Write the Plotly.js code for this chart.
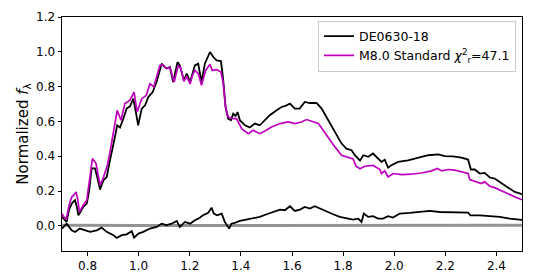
<!DOCTYPE html>
<html>
<head>
<meta charset="utf-8">
<script src="https://cdn.plot.ly/plotly-3.0.1.min.js"></script>
<style>html,body{margin:0;padding:0;background:#fff;}#chart{width:538px;height:272px;}</style>
</head>
<body>
<div id="chart"></div>
<script>
// DE0630-18 spectrum (wavelength in micron, normalized flux)
const dataWave = [0.700,0.710,0.718,0.728,0.738,0.745,0.751,0.758,0.764,0.772,0.783,0.797,0.806,0.816,0.829,0.838,0.849,0.862,0.875,0.885,0.894,0.907,0.916,0.927,0.940,0.953,0.966,0.979,0.989,0.998,1.012,1.025,1.038,1.055,1.070,1.090,1.100,1.109,1.122,1.135,1.152,1.161,1.177,1.188,1.201,1.220,1.233,1.246,1.259,1.279,1.292,1.305,1.322,1.331,1.340,1.350,1.361,1.370,1.379,1.387,1.396,1.416,1.435,1.455,1.474,1.494,1.513,1.540,1.559,1.575,1.592,1.611,1.630,1.650,1.670,1.696,1.716,1.742,1.768,1.794,1.813,1.833,1.846,1.859,1.866,1.879,1.898,1.917,1.937,1.950,1.963,1.976,1.989,2.015,2.054,2.093,2.133,2.172,2.198,2.230,2.263,2.289,2.300,2.315,2.335,2.354,2.374,2.393,2.420,2.446,2.472,2.500];
const dataFlux = [0.052,0.035,0.023,0.095,0.128,0.140,0.148,0.110,0.061,0.080,0.109,0.128,0.200,0.330,0.330,0.280,0.209,0.262,0.281,0.358,0.415,0.511,0.578,0.565,0.616,0.674,0.687,0.731,0.654,0.578,0.674,0.693,0.741,0.769,0.827,0.932,0.915,0.904,0.913,0.827,0.941,0.922,0.836,0.875,0.827,0.922,0.932,0.827,0.932,0.999,0.970,0.951,0.947,0.836,0.683,0.616,0.607,0.645,0.631,0.654,0.607,0.578,0.565,0.588,0.578,0.607,0.636,0.664,0.683,0.690,0.703,0.674,0.674,0.712,0.706,0.706,0.674,0.607,0.540,0.473,0.444,0.435,0.406,0.387,0.375,0.406,0.397,0.416,0.387,0.368,0.380,0.335,0.349,0.368,0.377,0.392,0.406,0.411,0.401,0.400,0.392,0.381,0.324,0.324,0.301,0.305,0.278,0.272,0.243,0.220,0.195,0.182];

// M8.0 spectral standard
const stdWave = [0.700,0.708,0.717,0.728,0.738,0.745,0.755,0.762,0.768,0.775,0.783,0.797,0.808,0.819,0.833,0.840,0.849,0.860,0.868,0.878,0.888,0.898,0.907,0.916,0.931,0.946,0.966,0.982,0.994,1.012,1.030,1.044,1.059,1.083,1.095,1.109,1.122,1.139,1.155,1.165,1.177,1.188,1.201,1.212,1.220,1.233,1.246,1.262,1.279,1.288,1.305,1.322,1.331,1.340,1.350,1.370,1.383,1.403,1.429,1.448,1.474,1.494,1.520,1.553,1.585,1.611,1.637,1.657,1.683,1.703,1.722,1.748,1.768,1.794,1.820,1.839,1.850,1.866,1.885,1.917,1.944,1.950,1.963,1.976,1.996,2.028,2.067,2.107,2.146,2.169,2.185,2.211,2.237,2.270,2.289,2.296,2.322,2.341,2.354,2.374,2.393,2.420,2.446,2.472,2.500];
const stdFlux = [0.070,0.050,0.040,0.120,0.166,0.175,0.195,0.150,0.080,0.100,0.119,0.148,0.260,0.387,0.358,0.300,0.234,0.270,0.301,0.350,0.425,0.500,0.588,0.664,0.607,0.703,0.722,0.769,0.654,0.731,0.750,0.817,0.798,0.922,0.925,0.904,0.910,0.827,0.922,0.905,0.830,0.860,0.815,0.870,0.893,0.875,0.808,0.893,0.928,0.893,0.897,0.884,0.817,0.683,0.626,0.616,0.616,0.559,0.530,0.549,0.530,0.545,0.568,0.588,0.597,0.588,0.597,0.611,0.597,0.588,0.549,0.492,0.454,0.406,0.396,0.385,0.345,0.328,0.343,0.348,0.324,0.301,0.316,0.281,0.301,0.295,0.297,0.304,0.316,0.330,0.316,0.324,0.320,0.310,0.301,0.266,0.253,0.243,0.253,0.228,0.220,0.201,0.186,0.167,0.150];

// Residual (data minus standard)
const resWave = [0.700,0.705,0.718,0.738,0.751,0.770,0.790,0.810,0.836,0.855,0.875,0.901,0.914,0.934,0.953,0.973,0.982,0.999,1.018,1.044,1.070,1.090,1.109,1.129,1.149,1.161,1.181,1.201,1.220,1.233,1.252,1.272,1.285,1.294,1.307,1.325,1.337,1.354,1.363,1.376,1.396,1.422,1.448,1.474,1.501,1.526,1.553,1.572,1.592,1.611,1.631,1.650,1.670,1.689,1.709,1.735,1.761,1.787,1.813,1.839,1.859,1.872,1.881,1.898,1.917,1.937,1.956,1.976,1.995,2.022,2.061,2.100,2.139,2.178,2.217,2.257,2.289,2.298,2.335,2.374,2.413,2.452,2.491,2.500];
const resFlux = [-0.015,-0.006,0.013,-0.025,-0.035,-0.015,-0.025,-0.034,-0.025,-0.010,-0.034,-0.053,-0.069,-0.053,-0.048,-0.030,-0.067,-0.044,-0.034,-0.015,-0.006,0.013,0.004,0.013,0.029,-0.006,0.023,0.013,0.033,0.042,0.061,0.075,0.105,0.071,0.061,0.071,0.023,-0.015,0.013,0.017,0.029,0.036,0.042,0.052,0.067,0.080,0.094,0.090,0.113,0.086,0.094,0.109,0.100,0.113,0.100,0.080,0.067,0.052,0.042,0.036,0.042,0.023,0.071,0.052,0.056,0.042,0.042,0.056,0.048,0.071,0.075,0.080,0.086,0.080,0.080,0.080,0.077,0.061,0.061,0.056,0.052,0.042,0.033,0.035];

// Noise (uncertainty) of the data
const noiseWave = [0.70,0.75,0.80,0.90,1.00,1.10,1.20,1.30,1.35,1.40,1.45,1.60,1.75,1.80,1.85,1.90,1.95,2.00,2.20,2.40,2.50];
const noiseFlux = [0.004,0.003,0.002,0.002,0.002,0.002,0.002,0.003,0.005,0.005,0.003,0.002,0.002,0.003,0.006,0.005,0.003,0.003,0.003,0.003,0.004];

const legendNames = ['DE0630-18', 'M8.0 Standard <i>χ</i><sup>2</sup><sub>r</sub>=47.1'];
const xTicks = [0.8,1.0,1.2,1.4,1.6,1.8,2.0,2.2,2.4];
const yTicks = [0.0,0.2,0.4,0.6,0.8,1.0,1.2];

const traces = [
  {x: noiseWave, y: noiseFlux, mode:'lines', line:{color:'rgba(120,120,120,0.8)', width:3}, showlegend:false, hoverinfo:'skip'},
  {x: dataWave, y: dataFlux, mode:'lines', name: legendNames[0], line:{color:'#000000', width:1.8}},
  {x: stdWave, y: stdFlux, mode:'lines', name: legendNames[1], line:{color:'#bf00bf', width:1.7}},
  {x: resWave, y: resFlux, mode:'lines', line:{color:'#000000', width:1.8}, showlegend:false}
];

const font = {family:'"DejaVu Sans", sans-serif', size:12, color:'#000'};
const layout = {
  width:538, height:272,
  margin:{l:62, r:16, t:17, b:21, pad:0},
  paper_bgcolor:'#fff', plot_bgcolor:'#fff',
  font: font,
  showlegend:true,
  legend:{x:0.987, y:0.985, xanchor:'right', yanchor:'top', bgcolor:'rgba(255,255,255,0.8)', bordercolor:'#cccccc', borderwidth:1, font:{family:font.family, size:12.5, color:'#000'}},
  xaxis:{range:[0.7,2.5], tickvals:xTicks, ticktext:xTicks.map(v=>v.toFixed(1)), ticks:'outside', ticklen:3.5, tickwidth:1, tickcolor:'#000', showline:true, mirror:true, linecolor:'#000', linewidth:1, showgrid:false, zeroline:false, tickfont:{size:12}},
  yaxis:{range:[-0.144,1.2], tickvals:yTicks, ticktext:yTicks.map(v=>v.toFixed(1)), ticks:'outside', ticklen:3.5, tickwidth:1, tickcolor:'#000', showline:true, mirror:true, linecolor:'#000', linewidth:1, showgrid:false, zeroline:false, tickfont:{size:12},
    title:{text:'Normalized <i>f</i><sub>λ</sub>', font:{size:15}, standoff:3}}
};
Plotly.newPlot('chart', traces, layout, {displayModeBar:false, staticPlot:true});
</script>
</body>
</html>
